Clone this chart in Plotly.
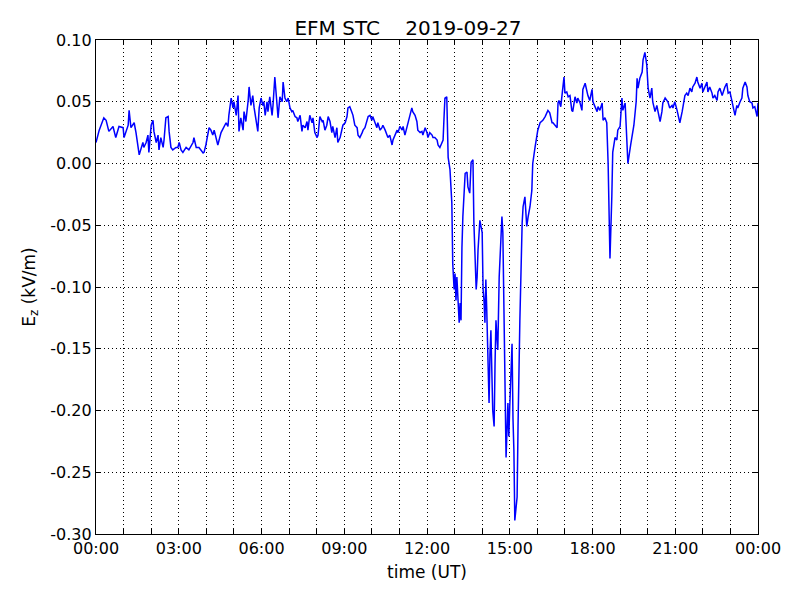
import plotly.graph_objects as go

# time in minutes after 00:00 UT, Ez in kV/m
time_min = [
    0, 7, 17, 22, 28, 37, 43, 50, 59, 61, 70, 72, 76, 83, 87, 91, 94, 102, 104, 109,
    113, 115, 120, 124, 126, 131, 135, 137, 141, 146, 148, 152, 157, 159, 163, 167, 174, 178, 181, 185,
    189, 196, 202, 211, 213, 218, 224, 233, 235, 239, 246, 250, 254, 257, 261, 265, 272, 278, 283, 287,
    289, 294, 298, 300, 305, 309, 311, 315, 320, 322, 326, 331, 333, 337, 341, 344, 348, 352, 355, 359,
    363, 365, 368, 372, 374, 378, 383, 385, 389, 394, 396, 400, 405, 407, 411, 415, 418, 422, 426, 428,
    433, 437, 439, 444, 448, 450, 455, 459, 461, 465, 470, 472, 476, 481, 483, 487, 492, 494, 498, 502,
    505, 509, 513, 515, 520, 524, 526, 531, 535, 537, 542, 546, 548, 552, 557, 559, 563, 568, 570, 574,
    579, 581, 585, 589, 592, 596, 600, 602, 607, 611, 613, 618, 622, 624, 629, 633, 635, 639, 644, 646,
    650, 655, 657, 661, 666, 668, 672, 676, 679, 683, 687, 689, 694, 698, 700, 705, 709, 711, 716, 720,
    722, 726, 731, 733, 737, 742, 744, 748, 753, 755, 757, 759, 763, 766, 770, 774, 776, 779, 781, 783,
    785, 787, 790, 792, 794, 796, 798, 803, 807, 809, 813, 816, 820, 822, 827, 829, 831, 835, 840, 842,
    844, 846, 848, 850, 855, 857, 859, 863, 866, 868, 870, 872, 874, 877, 881, 883, 885, 887, 890, 892,
    896, 898, 900, 903, 905, 907, 909, 911, 916, 918, 920, 922, 927, 929, 933, 937, 940, 944, 948, 950,
    955, 959, 961, 966, 972, 977, 981, 983, 987, 992, 994, 998, 1003, 1005, 1007, 1011, 1016, 1018, 1020, 1024,
    1027, 1031, 1035, 1037, 1042, 1046, 1048, 1053, 1057, 1059, 1064, 1068, 1070, 1074, 1079, 1081, 1085, 1090, 1092, 1096,
    1101, 1103, 1107, 1111, 1114, 1116, 1118, 1122, 1124, 1129, 1133, 1135, 1140, 1144, 1146, 1151, 1155, 1157, 1163, 1168,
    1170, 1175, 1177, 1179, 1183, 1188, 1190, 1194, 1198, 1201, 1205, 1209, 1211, 1216, 1220, 1222, 1227, 1231, 1233, 1238,
    1242, 1244, 1248, 1253, 1255, 1259, 1264, 1266, 1270, 1275, 1277, 1281, 1285, 1288, 1292, 1296, 1298, 1303, 1307, 1309,
    1314, 1318, 1320, 1325, 1329, 1331, 1335, 1340, 1342, 1346, 1351, 1353, 1357, 1362, 1364, 1368, 1372, 1375, 1379, 1383,
    1385, 1390, 1394, 1396, 1401, 1405, 1407, 1412, 1416, 1418, 1422, 1427, 1429, 1433, 1438, 1440,
]
ez_kv_m = [
    0.017, 0.027, 0.037, 0.035, 0.026, 0.030, 0.021, 0.030, 0.029, 0.021, 0.031, 0.043, 0.029, 0.033, 0.025, 0.015, 0.007, 0.017, 0.013, 0.017,
    0.023, 0.009, 0.031, 0.035, 0.026, 0.017, 0.023, 0.011, 0.021, 0.013, 0.019, 0.037, 0.038, 0.026, 0.013, 0.011, 0.013, 0.013, 0.017, 0.011,
    0.009, 0.013, 0.011, 0.017, 0.021, 0.013, 0.013, 0.0085, 0.009, 0.015, 0.029, 0.027, 0.023, 0.027, 0.021, 0.015, 0.025, 0.029, 0.033, 0.030,
    0.039, 0.053, 0.045, 0.050, 0.039, 0.055, 0.026, 0.037, 0.027, 0.042, 0.034, 0.051, 0.062, 0.047, 0.055, 0.045, 0.037, 0.026, 0.045, 0.053,
    0.047, 0.050, 0.039, 0.050, 0.042, 0.054, 0.039, 0.047, 0.070, 0.047, 0.037, 0.054, 0.050, 0.066, 0.053, 0.050, 0.053, 0.045, 0.042, 0.043,
    0.038, 0.037, 0.034, 0.039, 0.026, 0.031, 0.029, 0.034, 0.027, 0.039, 0.033, 0.037, 0.025, 0.021, 0.023, 0.038, 0.034, 0.035, 0.027, 0.031,
    0.038, 0.034, 0.025, 0.030, 0.021, 0.029, 0.017, 0.021, 0.027, 0.031, 0.033, 0.038, 0.045, 0.046, 0.041, 0.039, 0.031, 0.029, 0.023, 0.021,
    0.025, 0.027, 0.029, 0.034, 0.038, 0.039, 0.035, 0.038, 0.033, 0.029, 0.033, 0.027, 0.029, 0.031, 0.027, 0.023, 0.021, 0.023, 0.015, 0.019,
    0.023, 0.027, 0.025, 0.030, 0.027, 0.030, 0.023, 0.029, 0.033, 0.039, 0.045, 0.042, 0.039, 0.034, 0.027, 0.025, 0.026, 0.023, 0.029, 0.025,
    0.021, 0.025, 0.023, 0.021, 0.021, 0.019, 0.015, 0.013, 0.017, 0.019, 0.037, 0.053, 0.054, 0.005, -0.005, -0.032, -0.081, -0.102, -0.089, -0.111,
    -0.092, -0.113, -0.129, -0.113, -0.127, -0.068, -0.043, -0.008, -0.007, -0.019, -0.024, 0.001, 0.003, -0.048, -0.102, -0.092, -0.070, -0.046, -0.056, -0.102,
    -0.111, -0.129, -0.094, -0.119, -0.194, -0.154, -0.135, -0.200, -0.213, -0.162, -0.127, -0.140, -0.151, -0.092, -0.054, -0.043, -0.056, -0.113, -0.183, -0.238,
    -0.194, -0.221, -0.197, -0.157, -0.146, -0.206, -0.232, -0.289, -0.270, -0.213, -0.154, -0.127, -0.048, -0.035, -0.027, -0.051, -0.043, -0.035, -0.022, 0.000,
    0.013, 0.021, 0.027, 0.033, 0.035, 0.038, 0.041, 0.043, 0.041, 0.033, 0.033, 0.031, 0.029, 0.049, 0.051, 0.046, 0.060, 0.070, 0.057, 0.058,
    0.054, 0.055, 0.043, 0.042, 0.054, 0.049, 0.053, 0.049, 0.043, 0.060, 0.065, 0.057, 0.055, 0.051, 0.060, 0.050, 0.046, 0.042, 0.046, 0.043,
    0.049, 0.035, 0.037, 0.033, 0.000, -0.046, -0.077, -0.027, 0.009, 0.021, 0.019, 0.027, 0.030, 0.053, 0.043, 0.049, 0.015, 0.000, 0.015, 0.025,
    0.031, 0.050, 0.069, 0.061, 0.069, 0.074, 0.084, 0.090, 0.080, 0.061, 0.053, 0.061, 0.050, 0.042, 0.047, 0.043, 0.034, 0.042, 0.049, 0.053,
    0.051, 0.050, 0.045, 0.047, 0.045, 0.050, 0.043, 0.039, 0.033, 0.042, 0.047, 0.055, 0.057, 0.055, 0.061, 0.058, 0.062, 0.065, 0.070, 0.066,
    0.061, 0.065, 0.058, 0.062, 0.066, 0.058, 0.062, 0.057, 0.053, 0.055, 0.051, 0.058, 0.061, 0.055, 0.058, 0.062, 0.065, 0.057, 0.058, 0.050,
    0.047, 0.039, 0.047, 0.045, 0.050, 0.053, 0.061, 0.066, 0.062, 0.055, 0.050, 0.049, 0.045, 0.046, 0.038, 0.049,
]

x_tick_vals = list(range(0, 1441, 60))
x_tick_labels = ["00:00", "03:00", "06:00", "09:00", "12:00", "15:00", "18:00", "21:00", "00:00"]
y_tick_vals = [-0.30, -0.25, -0.20, -0.15, -0.10, -0.05, 0.00, 0.05, 0.10]
y_tick_labels = ["-0.30", "-0.25", "-0.20", "-0.15", "-0.10", "-0.05", "0.00", "0.05", "0.10"]

x_text = []
for v in x_tick_vals:
    if v % 180 == 0:
        x_text.append(x_tick_labels[v // 180])
    else:
        x_text.append("")

fig = go.Figure()
fig.add_trace(go.Scatter(
    x=time_min, y=ez_kv_m, mode="lines",
    line=dict(color="#0000ff", width=1.5),
    showlegend=False,
))

font = dict(family="DejaVu Sans", size=16, color="black")
title_font = dict(family="DejaVu Sans", size=17, color="black")
fig.update_layout(
    width=800, height=600,
    paper_bgcolor="white", plot_bgcolor="white",
    margin=dict(l=88, r=50, t=32, b=74),
    font=font,
    title=dict(text="EFM STC    2019-09-27", x=0.5, xanchor="center",
               y=1 - 27 / 600, yanchor="bottom",
               font=dict(family="DejaVu Sans", size=20, color="black")),
)
fig.update_xaxes(
    range=[0, 1440], tickmode="array", tickvals=x_tick_vals, ticktext=x_text,
    showgrid=True, gridcolor="black", griddash="1px,3px", gridwidth=1,
    ticks="inside", ticklen=5, tickcolor="black", mirror="ticks",
    showline=True, linecolor="black", linewidth=1.2, zeroline=False,
    title=dict(text="time (UT)", standoff=8, font=title_font), tickfont=font,
)
fig.update_yaxes(
    range=[-0.30, 0.10], tickmode="array", tickvals=y_tick_vals, ticktext=y_tick_labels,
    showgrid=True, gridcolor="black", griddash="1px,3px", gridwidth=1,
    ticks="inside", ticklen=5, tickcolor="black", mirror="ticks",
    showline=True, linecolor="black", linewidth=1.2, zeroline=False,
    title=dict(text="E<sub>z</sub> (kV/m)", standoff=10, font=title_font), tickfont=font,
)
fig.write_html("out.html")
